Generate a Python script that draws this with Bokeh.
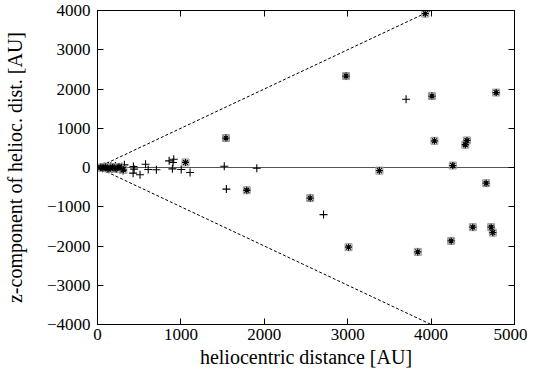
from bokeh.plotting import figure
from bokeh.models import LinearAxis, Range1d, FixedTicker
from bokeh.embed import file_html
from bokeh.resources import INLINE

# Data: "+" points (x = heliocentric distance, z = z-component), AU
plus_x = [35, 45, 55, 60, 70, 80, 90, 100, 110, 120, 130, 140, 150, 160, 175, 190, 200, 215, 230,
          250, 270, 290, 306, 322, 427, 431, 439, 510, 576, 608, 706, 859, 898, 906, 914, 1004,
          1110, 1520, 1545, 1910, 2710, 3700]
plus_z = [5, -10, 15, -20, 10, 25, -15, 20, -30, 5, 30, -25, -5, 35, -40, 15, -10, 40, -35,
          10, -50, 20, -76, 68, -144, 25, -42, -186, 84, -51, -59, 170, -34, 127, 211, -51,
          -127, 30, -550, -20, -1200, 1740]

# "*" points
star_x = [40, 65, 95, 125, 153, 180, 220, 260, 310, 1055, 1540, 1790, 2550, 2980, 3010, 3380,
          3840, 3930, 4010, 4040, 4240, 4260, 4410, 4430, 4500, 4660, 4720, 4740, 4780]
star_z = [0, -15, 10, -25, -17, 5, -30, 15, -59, 130, 750, -580, -780, 2330, -2030, -80,
          -2150, 3920, 1820, 680, -1870, 50, 580, 690, -1520, -400, -1520, -1660, 1910]

# Guide lines: z = +/- r, and z = 0
cone_r = [0, 4000]
cone_up = [0, 4000]
cone_dn = [0, -4000]
zero_x = [0, 5000]
zero_z = [0, 0]

x_ticks = [0, 1000, 2000, 3000, 4000, 5000]
y_ticks = [-4000, -3000, -2000, -1000, 0, 1000, 2000, 3000, 4000]

FONT = "Liberation Serif"

p = figure(width=527, height=370, output_backend="svg", toolbar_location=None,
           x_range=Range1d(0, 5000), y_range=Range1d(-4000, 4000),
           min_border_left=89, min_border_right=13, min_border_top=10, min_border_bottom=42)
p.grid.visible = False
p.outline_line_color = "black"
p.outline_line_width = 1
p.background_fill_color = "white"
p.border_fill_color = "white"

for ax in [p.xaxis[0], p.yaxis[0]]:
    ax.major_tick_in = 6
    ax.major_tick_out = 0
    ax.minor_tick_in = 0
    ax.minor_tick_out = 0
    ax.major_label_text_font = FONT
    ax.major_label_text_font_size = "17px"
    ax.major_label_text_color = "black"
    ax.axis_label_text_font = FONT
    ax.axis_label_text_font_size = "20px"
    ax.axis_label_text_font_style = "normal"
    ax.axis_label_text_color = "black"
    ax.axis_line_color = "black"
    ax.major_tick_line_color = "black"

p.xaxis[0].ticker = FixedTicker(ticks=x_ticks)
p.yaxis[0].ticker = FixedTicker(ticks=y_ticks)
p.xaxis[0].axis_label = "heliocentric distance [AU]"
p.yaxis[0].axis_label = "z-component of helioc. dist. [AU]"
p.xaxis[0].major_label_standoff = 4
p.yaxis[0].major_label_standoff = 7
p.xaxis[0].axis_label_standoff = 3
p.yaxis[0].axis_label_standoff = 18

# mirrored ticks on top and right (no labels)
top = LinearAxis(ticker=FixedTicker(ticks=x_ticks), major_tick_in=6, major_tick_out=0,
                 minor_tick_in=0, minor_tick_out=0, major_label_text_font_size="1px",
                 major_label_overrides={t: "" for t in x_ticks}, major_label_standoff=0)
right = LinearAxis(ticker=FixedTicker(ticks=y_ticks), major_tick_in=6, major_tick_out=0,
                   minor_tick_in=0, minor_tick_out=0, major_label_text_font_size="1px",
                   major_label_overrides={t: "" for t in y_ticks}, major_label_standoff=0)
p.add_layout(top, "above")
p.add_layout(right, "right")

p.line(zero_x, zero_z, line_color="#555555", line_width=1.2)
p.line(cone_r, cone_up, line_color="black", line_width=1, line_dash="3 2")
p.line(cone_r, cone_dn, line_color="black", line_width=1, line_dash="3 2")

p.scatter(plus_x, plus_z, marker="cross", size=8, line_color="black", line_width=1.1)
p.scatter(star_x, star_z, marker="square", size=7, fill_color=None, line_color="#999999", line_width=1)
p.scatter(star_x, star_z, marker="asterisk", size=7, line_color="black", line_width=1.3)

open("out.html", "w").write(file_html(p, INLINE))
